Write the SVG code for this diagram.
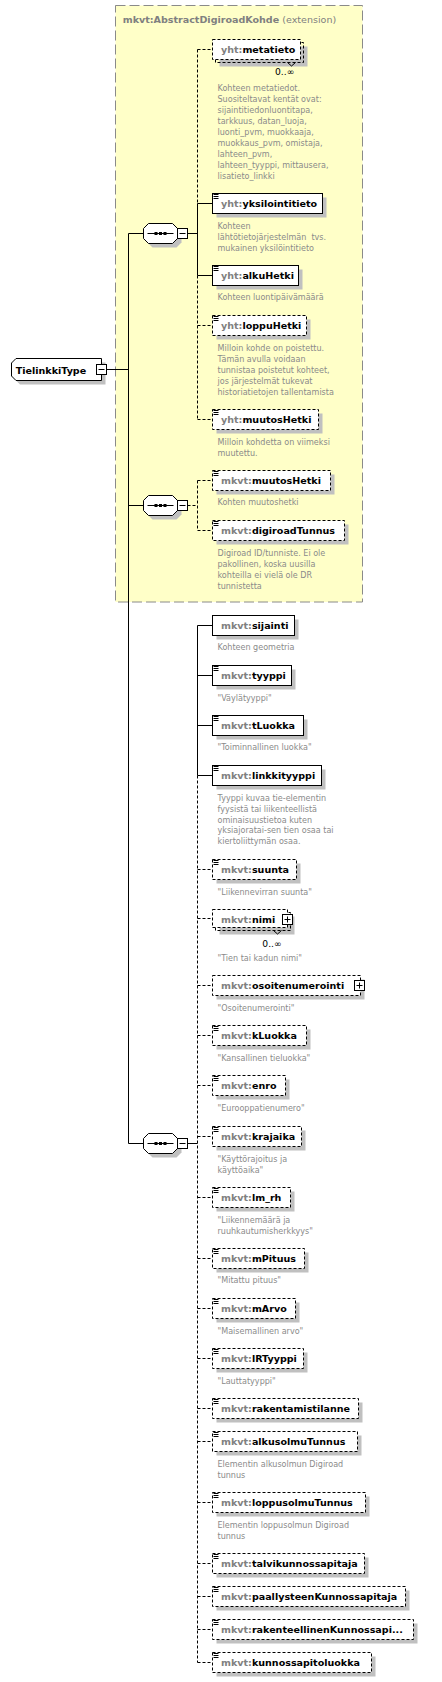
<svg xmlns="http://www.w3.org/2000/svg" width="442" height="1682" viewBox="0 0 442 1682">
<style>
.bx{fill:#fff;stroke:#000;stroke-width:1}
.op{stroke-dasharray:3,2}
.sh{fill:#c0c0c0}
.ln{fill:none;stroke:#000;stroke-width:1}
.nm{font-family:"DejaVu Sans",sans-serif;font-weight:bold;font-size:9.55px;fill:#000}
.pf{fill:#808080}
.ds{font-family:"DejaVu Sans",sans-serif;font-size:8.05px;fill:#8a8a8a}
.oc{font-family:"DejaVu Sans",sans-serif;font-size:9.2px;fill:#000}
.ic{stroke:#000;stroke-width:1}
</style>
<defs>
<g id="seq">
<path class="sh" d="M9,4 H33 L38,9 V19 L33,24 H9 L4,19 V9 Z"/>
<path class="bx" d="M5,0 H29 L34,5 V15 L29,20 H5 L0,15 V5 Z"/>
<path class="ln" d="M4,10 H30"/>
<rect x="11" y="8.5" width="3" height="3" fill="#000"/>
<rect x="15.5" y="8.5" width="3" height="3" fill="#000"/>
<rect x="20" y="8.5" width="3" height="3" fill="#000"/>
<rect class="bx" x="34" y="5" width="10" height="10"/>
<path class="ln" d="M36,10 H42"/>
</g>
<path id="doc" class="ic" d="M1,1.5 H6 M1,3.5 H6 M1,5.5 H6"/>
</defs>

<g id="extension">
<rect x="115.5" y="5.5" width="247" height="596.5" fill="#ffffc8" stroke="#8a8a8a" stroke-dasharray="10,4"/>
<text x="122.7" y="22.5" class="nm" fill="#808080"><tspan class="pf">mkvt:AbstractDigiroadKohde</tspan><tspan font-weight="normal" class="pf"> (extension)</tspan></text>
</g>

<g id="connectors">
<path class="ln" d="M106.5,369.5 H128.5 M128.5,233.5 V1143.5 M128.5,233.5 H143.5 M128.5,505.5 H143.5 M128.5,1143.5 H143.5"/>
<path class="ln" d="M187.5,233.5 H197.5 M197.5,203.5 V275.5 M197.5,203.5 H212.5 M197.5,275.5 H212.5"/>
<path class="ln op" d="M197.5,49.5 V203.5 M197.5,275.5 V419.5 M197.5,49.5 H212.5 M197.5,325.5 H212.5 M197.5,419.5 H212.5"/>
<path class="ln op" d="M187.5,505.5 H197.5 M197.5,480.5 V530.5 M197.5,480.5 H212.5 M197.5,530.5 H212.5"/>
<path class="ln" d="M187.5,1143.5 H197.5 M197.5,625.5 V775.5 M197.5,625.5 H212.5 M197.5,675.5 H212.5 M197.5,725.5 H212.5 M197.5,775.5 H212.5"/>
<path class="ln op" d="M197.5,775.5 V1662.5 M197.5,869.5 H212.5 M197.5,918.5 H212.5 M197.5,985.5 H212.5 M197.5,1035.5 H212.5 M197.5,1085.5 H212.5 M197.5,1136.5 H212.5 M197.5,1197.5 H212.5 M197.5,1258.5 H212.5 M197.5,1308.5 H212.5 M197.5,1358.5 H212.5 M197.5,1408.5 H212.5 M197.5,1441.5 H212.5 M197.5,1502.5 H212.5 M197.5,1563.5 H212.5 M197.5,1596.5 H212.5 M197.5,1629.5 H212.5 M197.5,1662.5 H212.5"/>
</g>

<g id="TielinkkiType">
<path class="sh" d="M20,362.5 H105.5 V384.5 H20 L15.5,380 V367 Z"/>
<path class="bx" d="M16,358.5 H101.5 V380.5 H16 L11.5,376 V363 Z"/>
<text x="15.7" y="373.5" class="nm">TielinkkiType</text>
<rect class="bx" x="96.5" y="364.5" width="10" height="10"/>
<path class="ln" d="M98.5,369.5 H104.5"/>
</g>

<g id="seq1"><use href="#seq" x="143.5" y="223.5"/></g>
<g id="seq2"><use href="#seq" x="143.5" y="495.5"/></g>
<g id="seq3"><use href="#seq" x="143.5" y="1133.5"/></g>

<g id="n_metatieto">
<rect class="sh" x="219.5" y="46.5" width="88" height="20"/>
<path class="ln op" fill="#fff" d="M215.5,59.5 V62.5 H303.5 V42.5 H300.5"/>
<rect class="bx op" x="212.5" y="39.5" width="88" height="20"/>
<path class="ln" d="M287.5,62.5 L291.5,66 L295.5,62.5"/>
<text x="221" y="53" class="nm"><tspan class="pf">yht:</tspan>metatieto</text>
<text x="275" y="75" class="oc">0..∞</text>
<text class="ds"><tspan x="217.5" y="91.3">Kohteen metatiedot.</tspan><tspan x="217.5" y="102.2">Suositeltavat kentät ovat:</tspan><tspan x="217.5" y="113.2">sijaintitiedonluontitapa,</tspan><tspan x="217.5" y="124.1">tarkkuus, datan_luoja,</tspan><tspan x="217.5" y="135">luonti_pvm, muokkaaja,</tspan><tspan x="217.5" y="145.9">muokkaus_pvm, omistaja,</tspan><tspan x="217.5" y="156.9">lahteen_pvm,</tspan><tspan x="217.5" y="167.8">lahteen_tyyppi, mittausera,</tspan><tspan x="217.5" y="178.7">lisatieto_linkki</tspan></text>
</g>

<g id="n_yksilointitieto">
<rect class="sh" x="216.5" y="197.5" width="110" height="20"/>
<rect class="bx" x="212.5" y="193.5" width="110" height="20"/>
<use href="#doc" x="212.5" y="193"/>
<text x="221" y="207.3" class="nm"><tspan class="pf">yht:</tspan>yksilointitieto</text>
<text class="ds" xml:space="preserve"><tspan x="217.5" y="229">Kohteen</tspan><tspan x="217.5" y="240">lähtötietojärjestelmän  tvs.</tspan><tspan x="217.5" y="251">mukainen yksilöintitieto</tspan></text>
</g>

<g id="n_alkuHetki">
<rect class="sh" x="216.5" y="269.5" width="86" height="20"/>
<rect class="bx" x="212.5" y="265.5" width="86" height="20"/>
<use href="#doc" x="212.5" y="265"/>
<text x="221" y="279.3" class="nm"><tspan class="pf">yht:</tspan>alkuHetki</text>
<text class="ds" x="217.5" y="300.3">Kohteen luontipäivämäärä</text>
</g>

<g id="n_loppuHetki">
<rect class="sh" x="216.5" y="319.5" width="94" height="20"/>
<rect class="bx op" x="212.5" y="315.5" width="94" height="20"/>
<use href="#doc" x="212.5" y="315"/>
<text x="221" y="329.3" class="nm"><tspan class="pf">yht:</tspan>loppuHetki</text>
<text class="ds"><tspan x="217.5" y="351.3">Milloin kohde on poistettu.</tspan><tspan x="217.5" y="362.2">Tämän avulla voidaan</tspan><tspan x="217.5" y="373.1">tunnistaa poistetut kohteet,</tspan><tspan x="217.5" y="384">jos järjestelmät tukevat</tspan><tspan x="217.5" y="394.9">historiatietojen tallentamista</tspan></text>
</g>

<g id="n_yht_muutosHetki">
<rect class="sh" x="216.5" y="413.5" width="106" height="20"/>
<rect class="bx op" x="212.5" y="409.5" width="106" height="20"/>
<use href="#doc" x="212.5" y="409"/>
<text x="221" y="423.3" class="nm"><tspan class="pf">yht:</tspan>muutosHetki</text>
<text class="ds"><tspan x="217.5" y="445">Milloin kohdetta on viimeksi</tspan><tspan x="217.5" y="456">muutettu.</tspan></text>
</g>

<g id="n_mkvt_muutosHetki">
<rect class="sh" x="216.5" y="474.5" width="118" height="20"/>
<rect class="bx op" x="212.5" y="470.5" width="118" height="20"/>
<use href="#doc" x="212.5" y="470"/>
<text x="221" y="484.3" class="nm"><tspan class="pf">mkvt:</tspan>muutosHetki</text>
<text class="ds" x="217.5" y="505.3">Kohten muutoshetki</text>
</g>

<g id="n_digiroadTunnus">
<rect class="sh" x="216.5" y="524.5" width="132" height="20"/>
<rect class="bx op" x="212.5" y="520.5" width="132" height="20"/>
<use href="#doc" x="212.5" y="520"/>
<text x="221" y="534.3" class="nm"><tspan class="pf">mkvt:</tspan>digiroadTunnus</text>
<text class="ds"><tspan x="217.5" y="556.3">Digiroad ID/tunniste. Ei ole</tspan><tspan x="217.5" y="567.2">pakollinen, koska uusilla</tspan><tspan x="217.5" y="578.1">kohteilla ei vielä ole DR</tspan><tspan x="217.5" y="589">tunnistetta</tspan></text>
</g>

<g id="n_sijainti">
<rect class="sh" x="216.5" y="619.5" width="82" height="20"/>
<rect class="bx" x="212.5" y="615.5" width="82" height="20"/>
<text x="221" y="629.3" class="nm"><tspan class="pf">mkvt:</tspan>sijainti</text>
<text class="ds" x="217.5" y="650.3">Kohteen geometria</text>
</g>

<g id="n_tyyppi">
<rect class="sh" x="216.5" y="669.5" width="79" height="20"/>
<rect class="bx" x="212.5" y="665.5" width="79" height="20"/>
<use href="#doc" x="212.5" y="665"/>
<text x="221" y="679.3" class="nm"><tspan class="pf">mkvt:</tspan>tyyppi</text>
<text class="ds" x="217.5" y="700.7">"Väylätyyppi"</text>
</g>

<g id="n_tLuokka">
<rect class="sh" x="216.5" y="719.5" width="91" height="20"/>
<rect class="bx" x="212.5" y="715.5" width="91" height="20"/>
<use href="#doc" x="212.5" y="715"/>
<text x="221" y="729.3" class="nm"><tspan class="pf">mkvt:</tspan>tLuokka</text>
<text class="ds" x="217.5" y="750.3">"Toiminnallinen luokka"</text>
</g>

<g id="n_linkkityyppi">
<rect class="sh" x="216.5" y="769.5" width="109" height="20"/>
<rect class="bx" x="212.5" y="765.5" width="109" height="20"/>
<use href="#doc" x="212.5" y="765"/>
<text x="221" y="779.3" class="nm"><tspan class="pf">mkvt:</tspan>linkkityyppi</text>
<text class="ds"><tspan x="217.5" y="800.7">Tyyppi kuvaa tie-elementin</tspan><tspan x="217.5" y="811.6">fyysistä tai liikenteellistä</tspan><tspan x="217.5" y="822.5">ominaisuustietoa kuten</tspan><tspan x="217.5" y="833.4">yksiajoratai-sen tien osaa tai</tspan><tspan x="217.5" y="844.3">kiertoliittymän osaa.</tspan></text>
</g>

<g id="n_suunta">
<rect class="sh" x="216.5" y="863.5" width="84" height="20"/>
<rect class="bx op" x="212.5" y="859.5" width="84" height="20"/>
<use href="#doc" x="212.5" y="859"/>
<text x="221" y="873.3" class="nm"><tspan class="pf">mkvt:</tspan>suunta</text>
<text class="ds" x="217.5" y="894.7">"Liikennevirran suunta"</text>
</g>

<g id="n_nimi">
<rect class="sh" x="219.5" y="916.5" width="75" height="18"/>
<path class="ln op" fill="#fff" d="M215.5,927.5 V930.5 H290.5 V912.5 H287.5"/>
<rect class="bx op" x="212.5" y="909.5" width="75" height="18"/>
<path class="ln" d="M273.5,930.5 L277.5,934 L281.5,930.5"/>
<text x="221" y="922.8" class="nm"><tspan class="pf">mkvt:</tspan>nimi</text>
<rect class="bx" x="282.5" y="914.5" width="10" height="10"/>
<path class="ln" d="M284.5,919.5 H290.5 M287.5,916.5 V922.5"/>
<text x="262.3" y="946.5" class="oc">0..∞</text>
<text class="ds" x="217.5" y="961.3">"Tien tai kadun nimi"</text>
</g>

<g id="n_osoitenumerointi">
<rect class="sh" x="216.5" y="979.5" width="148" height="20"/>
<rect class="bx op" x="212.5" y="975.5" width="148" height="20"/>
<text x="221" y="989.3" class="nm"><tspan class="pf">mkvt:</tspan>osoitenumerointi</text>
<rect class="bx" x="354.5" y="980.5" width="10" height="10"/>
<path class="ln" d="M356.5,985.5 H362.5 M359.5,982.5 V988.5"/>
<text class="ds" x="217.5" y="1011.3">"Osoitenumerointi"</text>
</g>

<g id="n_kLuokka">
<rect class="sh" x="216.5" y="1029.5" width="94" height="20"/>
<rect class="bx op" x="212.5" y="1025.5" width="94" height="20"/>
<use href="#doc" x="212.5" y="1025"/>
<text x="221" y="1039.3" class="nm"><tspan class="pf">mkvt:</tspan>kLuokka</text>
<text class="ds" x="217.5" y="1061.3">"Kansallinen tieluokka"</text>
</g>

<g id="n_enro">
<rect class="sh" x="216.5" y="1079.5" width="73" height="20"/>
<rect class="bx op" x="212.5" y="1075.5" width="73" height="20"/>
<use href="#doc" x="212.5" y="1075"/>
<text x="221" y="1089.3" class="nm"><tspan class="pf">mkvt:</tspan>enro</text>
<text class="ds" x="217.5" y="1111.3">"Eurooppatienumero"</text>
</g>

<g id="n_krajaika">
<rect class="sh" x="216.5" y="1130.5" width="89" height="20"/>
<rect class="bx op" x="212.5" y="1126.5" width="89" height="20"/>
<use href="#doc" x="212.5" y="1126"/>
<text x="221" y="1140.3" class="nm"><tspan class="pf">mkvt:</tspan>krajaika</text>
<text class="ds"><tspan x="217.5" y="1162">"Käyttörajoitus ja</tspan><tspan x="217.5" y="1173">käyttöaika"</tspan></text>
</g>

<g id="n_lm_rh">
<rect class="sh" x="216.5" y="1191.5" width="78" height="20"/>
<rect class="bx op" x="212.5" y="1187.5" width="78" height="20"/>
<use href="#doc" x="212.5" y="1187"/>
<text x="221" y="1201.3" class="nm"><tspan class="pf">mkvt:</tspan>lm_rh</text>
<text class="ds"><tspan x="217.5" y="1222.7">"Liikennemäärä ja</tspan><tspan x="217.5" y="1233.7">ruuhkautumisherkkyys"</tspan></text>
</g>

<g id="n_mPituus">
<rect class="sh" x="216.5" y="1252.5" width="92" height="20"/>
<rect class="bx op" x="212.5" y="1248.5" width="92" height="20"/>
<use href="#doc" x="212.5" y="1248"/>
<text x="221" y="1262.3" class="nm"><tspan class="pf">mkvt:</tspan>mPituus</text>
<text class="ds" x="217.5" y="1283.3">"Mitattu pituus"</text>
</g>

<g id="n_mArvo">
<rect class="sh" x="216.5" y="1302.5" width="83" height="20"/>
<rect class="bx op" x="212.5" y="1298.5" width="83" height="20"/>
<use href="#doc" x="212.5" y="1298"/>
<text x="221" y="1312.3" class="nm"><tspan class="pf">mkvt:</tspan>mArvo</text>
<text class="ds" x="217.5" y="1333.7">"Maisemallinen arvo"</text>
</g>

<g id="n_lRTyyppi">
<rect class="sh" x="216.5" y="1352.5" width="91" height="20"/>
<rect class="bx op" x="212.5" y="1348.5" width="91" height="20"/>
<use href="#doc" x="212.5" y="1348"/>
<text x="221" y="1362.3" class="nm"><tspan class="pf">mkvt:</tspan>lRTyyppi</text>
<text class="ds" x="217.5" y="1384">"Lauttatyyppi"</text>
</g>

<g id="n_rakentamistilanne">
<rect class="sh" x="216.5" y="1402.5" width="146" height="20"/>
<rect class="bx op" x="212.5" y="1398.5" width="146" height="20"/>
<use href="#doc" x="212.5" y="1398"/>
<text x="221" y="1412.3" class="nm"><tspan class="pf">mkvt:</tspan>rakentamistilanne</text>
</g>

<g id="n_alkusolmuTunnus">
<rect class="sh" x="216.5" y="1435.5" width="145" height="20"/>
<rect class="bx op" x="212.5" y="1431.5" width="145" height="20"/>
<use href="#doc" x="212.5" y="1431"/>
<text x="221" y="1445.3" class="nm"><tspan class="pf">mkvt:</tspan>alkusolmuTunnus</text>
<text class="ds"><tspan x="217.5" y="1466.7">Elementin alkusolmun Digiroad</tspan><tspan x="217.5" y="1477.7">tunnus</tspan></text>
</g>

<g id="n_loppusolmuTunnus">
<rect class="sh" x="216.5" y="1496.5" width="153" height="20"/>
<rect class="bx op" x="212.5" y="1492.5" width="153" height="20"/>
<use href="#doc" x="212.5" y="1492"/>
<text x="221" y="1506.3" class="nm"><tspan class="pf">mkvt:</tspan>loppusolmuTunnus</text>
<text class="ds"><tspan x="217.5" y="1527.7">Elementin loppusolmun Digiroad</tspan><tspan x="217.5" y="1538.7">tunnus</tspan></text>
</g>

<g id="n_talvikunnossapitaja">
<rect class="sh" x="216.5" y="1557.5" width="152" height="20"/>
<rect class="bx op" x="212.5" y="1553.5" width="152" height="20"/>
<use href="#doc" x="212.5" y="1553"/>
<text x="221" y="1567.3" class="nm"><tspan class="pf">mkvt:</tspan>talvikunnossapitaja</text>
</g>

<g id="n_paallysteenKunnossapitaja">
<rect class="sh" x="216.5" y="1590.5" width="193" height="20"/>
<rect class="bx op" x="212.5" y="1586.5" width="193" height="20"/>
<use href="#doc" x="212.5" y="1586"/>
<text x="221" y="1600.3" class="nm"><tspan class="pf">mkvt:</tspan>paallysteenKunnossapitaja</text>
</g>

<g id="n_rakenteellinenKunnossapi">
<rect class="sh" x="216.5" y="1623.5" width="201" height="20"/>
<rect class="bx op" x="212.5" y="1619.5" width="201" height="20"/>
<use href="#doc" x="212.5" y="1619"/>
<text x="221" y="1633.3" class="nm"><tspan class="pf">mkvt:</tspan>rakenteellinenKunnossapi...</text>
</g>

<g id="n_kunnossapitoluokka">
<rect class="sh" x="216.5" y="1656.5" width="159" height="20"/>
<rect class="bx op" x="212.5" y="1652.5" width="159" height="20"/>
<use href="#doc" x="212.5" y="1652"/>
<text x="221" y="1666.3" class="nm"><tspan class="pf">mkvt:</tspan>kunnossapitoluokka</text>
</g>
</svg>
